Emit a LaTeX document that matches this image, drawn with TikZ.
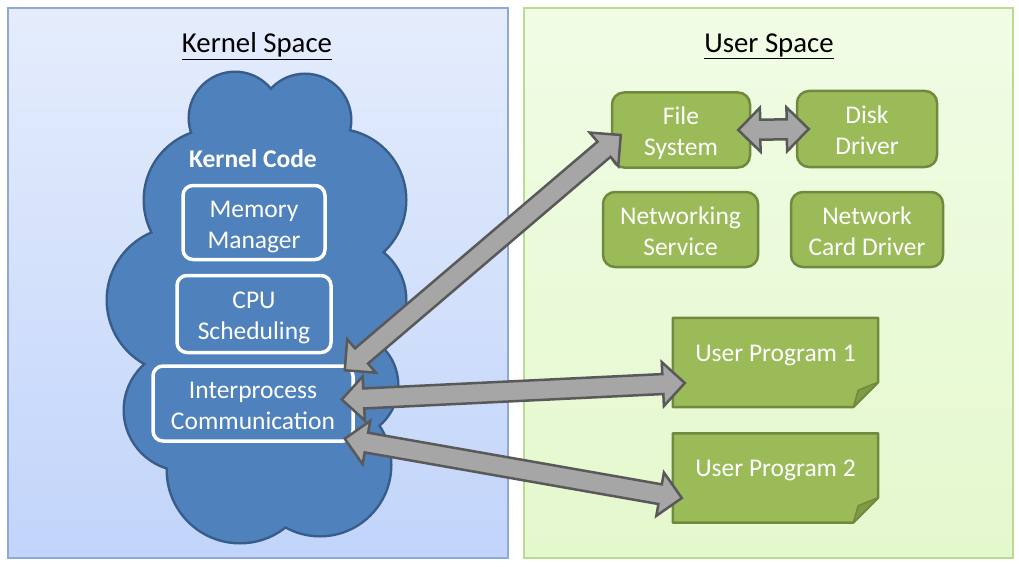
\documentclass[tikz,border=0pt]{standalone}
\usepackage{fontspec}
\setmainfont{Carlito}
\usetikzlibrary{calc}
\definecolor{cloudblue}{RGB}{79,129,189}
\definecolor{clouddark}{RGB}{56,93,138}
\definecolor{boxgreen}{RGB}{155,187,89}
\definecolor{boxdark}{RGB}{113,137,63}
\definecolor{folddark}{RGB}{126,156,69}
\definecolor{arrowfill}{RGB}{166,166,166}
\definecolor{arrowline}{RGB}{89,89,89}
\def\fatarrow[#1](#2)(#3){\draw[#1] let \p1=($(#3)-(#2)$), \n1={atan2(\y1,\x1)}, \n2={veclen(\x1,\y1)-44} in (#2) -- ++(\n1+45:31.1pt) -- ++(\n1-90:12pt) -- ++(\n1:\n2) -- ++(\n1+90:12pt) -- (#3) -- ++(\n1+225:31.1pt) -- ++(\n1+90:12pt) -- ++(\n1+180:\n2) -- ++(\n1-90:12pt) -- cycle;}

\begin{document}
\begin{tikzpicture}[x=1pt, y=1pt, font=\fontsize{25.5}{31}\selectfont,
	kbox/.style={draw=white, line width=3.5pt, rounded corners=10pt, text=white, align=center, inner sep=0pt, text height=51pt, text depth=0pt},
	ubox/.style={draw=boxdark, fill=boxgreen, line width=2.5pt, rounded corners=12pt, text=white, align=center, inner sep=0pt, text height=51pt, text depth=0pt},
	progbox/.style={minimum width=205pt, minimum height=89pt, inner sep=0pt},
	notebox/.style={draw=boxdark, fill=boxgreen, line width=2.5pt, line join=round},
	fatline/.style={fill=arrowfill, draw=arrowline, line width=2.5pt, line join=miter}]
		%%%%% START %%%%%
		\useasboundingbox (0,0) rectangle (1019,-567);
		
		\draw[line width=1.2pt, draw={rgb,255:red,143;green,168;blue,212}, top color={rgb,255:red,229;green,237;blue,252}, bottom color={rgb,255:red,193;green,212;blue,250}] (8,-8) rectangle (508,-558);
		\draw[line width=1.2pt, draw={rgb,255:red,187;green,219;blue,148}, top color={rgb,255:red,241;green,252;blue,229}, bottom color={rgb,255:red,228;green,248;blue,205}] (524,-8) rectangle (1013,-558);
		
		\node (kspace) at (257,-46) {\fontsize{28.8}{34}\selectfont\underline{Kernel Space}};
		\node (uspace) at (769,-46) {\fontsize{28.8}{34}\selectfont\underline{User Space}};
		
		% cloud
		\draw[clouddark, line width=5pt] (235,-118) circle (45) (305,-120) circle (45) (215,-200) circle (70) (335,-200) circle (70) (180,-300) circle (72) (345,-300) circle (60) (185,-410) circle (60) (345,-385) circle (52) (240,-470) circle (72) (320,-465) circle (70);
		\fill[cloudblue] (235,-118) circle (45) (305,-120) circle (45) (215,-200) circle (70) (335,-200) circle (70) (180,-300) circle (72) (345,-300) circle (60) (185,-410) circle (60) (345,-385) circle (52) (240,-470) circle (72) (320,-465) circle (70) (265,-330) circle (100) (270,-170) circle (50);
		
		\node[text=white, font=\fontsize{25.5}{30}\selectfont\bfseries] (kcode) at (253,-159) {Kernel Code};
		\node[kbox, minimum width=142pt, minimum height=74pt] (mem) at (254,-222.5) {Memory\\Manager};
		\node[kbox, minimum width=154pt, minimum height=77pt] (cpu) at (254,-314) {CPU\\Scheduling};
		\node[kbox, minimum width=200pt, minimum height=75pt] (ipc) at (253,-403.5) {Interprocess\\Communication};
		
		% user space
		\node[ubox, minimum width=138pt, minimum height=75pt] (fs) at (681,-130) {File\\System};
		\node[ubox, minimum width=140pt, minimum height=76pt] (dd) at (867,-129) {Disk\\Driver};
		\node[ubox, minimum width=155pt, minimum height=75pt] (ns) at (680.5,-229.5) {Networking\\Service};
		\node[ubox, minimum width=152pt, minimum height=75pt] (ncd) at (867,-229.5) {Network\\Card Driver};
		
		\node[progbox] (prog1) at (775.5,-362.5) {};
		\draw[notebox] (prog1.north west) -- (prog1.north east) -- ([yshift=25]prog1.south east) -- ([xshift=-25]prog1.south east) -- (prog1.south west) -- cycle;
		\draw[notebox, fill=folddark, line width=1.5pt] ([yshift=25]prog1.south east) -- ([shift={(-20,17)}]prog1.south east) -- ([xshift=-25]prog1.south east) -- cycle;
		\node[text=white] (prog1txt) at ([yshift=7.5]prog1.center) {User Program 1};
		
		\node[progbox] (prog2) at (775.5,-478) {};
		\draw[notebox] (prog2.north west) -- (prog2.north east) -- ([yshift=25]prog2.south east) -- ([xshift=-25]prog2.south east) -- (prog2.south west) -- cycle;
		\draw[notebox, fill=folddark, line width=1.5pt] ([yshift=25]prog2.south east) -- ([shift={(-20,17)}]prog2.south east) -- ([xshift=-25]prog2.south east) -- cycle;
		\node[text=white] (prog2txt) at ([yshift=8]prog2.center) {User Program 2};
		
		% arrows
		\fatarrow[fatline]([shift={(-10,-6)}]ipc.north east)([shift={(10,-5)}]fs.west)
		\fatarrow[fatline]([shift={(-13,4)}]ipc.east)([shift={(12,-20.5)}]prog1.west)
		\fatarrow[fatline]([shift={(-10,4)}]ipc.south east)([shift={(9,-20)}]prog2.west)
		\fatarrow[fatline]([xshift=-13]fs.east)([xshift=13]dd.west)
		
		%%%%% END %%%%%
\end{tikzpicture}
\end{document}
